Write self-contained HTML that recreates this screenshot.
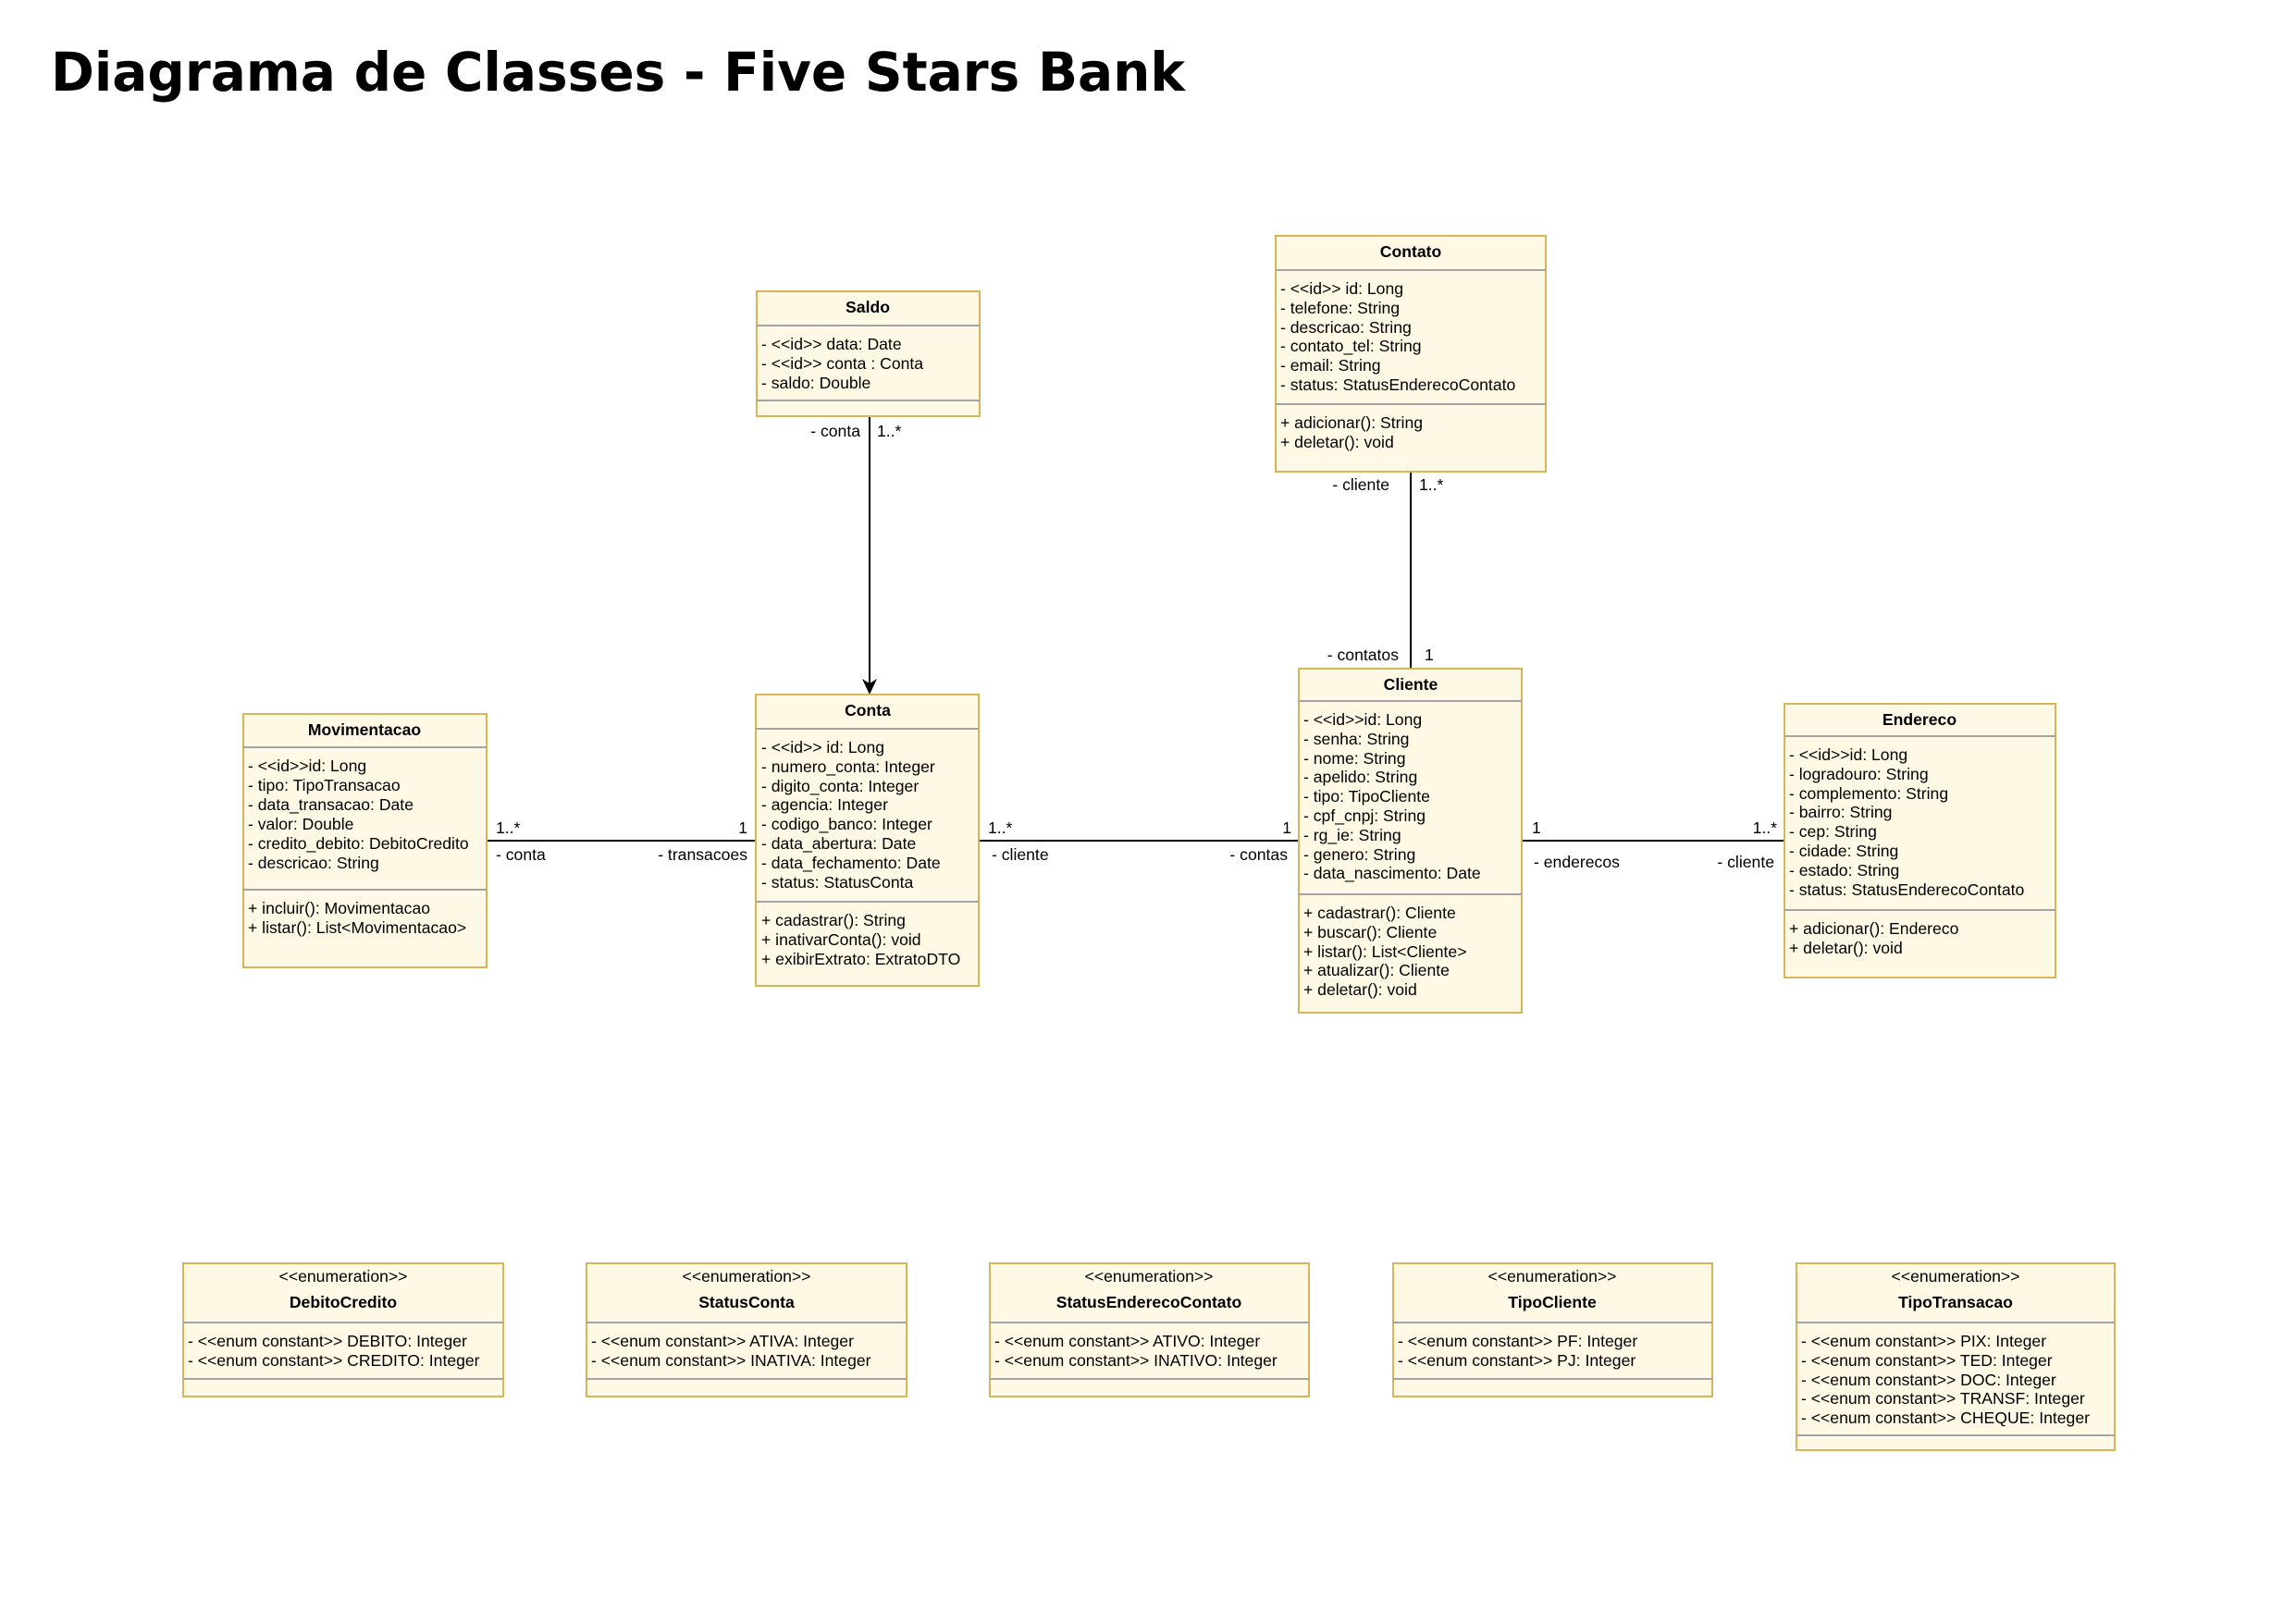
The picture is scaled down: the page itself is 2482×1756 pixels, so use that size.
<!DOCTYPE html>
<html><head><meta charset="utf-8"><style>
html,body{margin:0;padding:0;background:#fff;}
svg{display:block;}
text{font-family:"Liberation Sans",Arial,sans-serif;font-size:17.6px;fill:#000;}
.b{font-weight:bold;}
.t{font-family:"DejaVu Sans",sans-serif;font-weight:bold;font-size:58px;}
.box{fill:#fef8e4;stroke:#d6b656;stroke-width:2;}
.div{stroke:#a3a3a3;stroke-width:2;}
.ln{stroke:#000;stroke-width:2;fill:none;}
</style></head><body>
<svg width="2482" height="1756" viewBox="0 0 2482 1756" xmlns="http://www.w3.org/2000/svg">
<text class="t" x="55" y="98" textLength="1226" lengthAdjust="spacingAndGlyphs">Diagrama de Classes - Five Stars Bank</text>

<line class="ln" x1="526" y1="909" x2="817" y2="909"/>
<line class="ln" x1="1058" y1="909" x2="1404" y2="909"/>
<line class="ln" x1="1645" y1="909" x2="1929" y2="909"/>
<line class="ln" x1="940" y1="450" x2="940" y2="745"/>
<path d="M940,751 L932,734 L940,739 L948,734 Z" fill="#000"/>
<line class="ln" x1="1525" y1="510" x2="1525" y2="723"/>

<text x="536" y="901">1..*</text>
<text x="536" y="930">- conta</text>
<text x="808" y="901" text-anchor="end">1</text>
<text x="808" y="930" text-anchor="end">- transacoes</text>
<text x="1068" y="901">1..*</text>
<text x="1072" y="930">- cliente</text>
<text x="1396" y="901" text-anchor="end">1</text>
<text x="1392" y="930" text-anchor="end">- contas</text>
<text x="1656" y="901">1</text>
<text x="1658" y="938">- enderecos</text>
<text x="1921" y="901" text-anchor="end">1..*</text>
<text x="1918" y="938" text-anchor="end">- cliente</text>
<text x="930" y="472" text-anchor="end">- conta</text>
<text x="948" y="472">1..*</text>
<text x="1502" y="530" text-anchor="end">- cliente</text>
<text x="1534" y="530">1..*</text>
<text x="1512" y="714" text-anchor="end">- contatos</text>
<text x="1540" y="714">1</text>

<rect class="box" x="818" y="315" width="241" height="135"/>
<line class="div" x1="818" y1="352" x2="1059" y2="352"/>
<line class="div" x1="818" y1="433" x2="1059" y2="433"/>
<text class="b" x="938" y="338" text-anchor="middle">Saldo</text>
<text x="823" y="378">- &lt;&lt;id&gt;&gt; data: Date</text>
<text x="823" y="399">- &lt;&lt;id&gt;&gt; conta : Conta</text>
<text x="823" y="420">- saldo: Double</text>

<rect class="box" x="1379" y="255" width="292" height="255"/>
<line class="div" x1="1379" y1="292" x2="1671" y2="292"/>
<line class="div" x1="1379" y1="437" x2="1671" y2="437"/>
<text class="b" x="1525" y="278" text-anchor="middle">Contato</text>
<text x="1384" y="318">- &lt;&lt;id&gt;&gt; id: Long</text>
<text x="1384" y="339">- telefone: String</text>
<text x="1384" y="360">- descricao: String</text>
<text x="1384" y="380">- contato_tel: String</text>
<text x="1384" y="401">- email: String</text>
<text x="1384" y="422">- status: StatusEnderecoContato</text>
<text x="1384" y="463">+ adicionar(): String</text>
<text x="1384" y="484">+ deletar(): void</text>

<rect class="box" x="263" y="772" width="263" height="274"/>
<line class="div" x1="263" y1="808" x2="526" y2="808"/>
<line class="div" x1="263" y1="962" x2="526" y2="962"/>
<text class="b" x="394" y="795" text-anchor="middle">Movimentacao</text>
<text x="268" y="834">- &lt;&lt;id&gt;&gt;id: Long</text>
<text x="268" y="855">- tipo: TipoTransacao</text>
<text x="268" y="876">- data_transacao: Date</text>
<text x="268" y="897">- valor: Double</text>
<text x="268" y="918">- credito_debito: DebitoCredito</text>
<text x="268" y="939">- descricao: String</text>
<text x="268" y="988">+ incluir(): Movimentacao</text>
<text x="268" y="1009">+ listar(): List&lt;Movimentacao&gt;</text>

<rect class="box" x="817" y="751" width="241" height="315"/>
<line class="div" x1="817" y1="788" x2="1058" y2="788"/>
<line class="div" x1="817" y1="975" x2="1058" y2="975"/>
<text class="b" x="938" y="774" text-anchor="middle">Conta</text>
<text x="823" y="814">- &lt;&lt;id&gt;&gt; id: Long</text>
<text x="823" y="835">- numero_conta: Integer</text>
<text x="823" y="856">- digito_conta: Integer</text>
<text x="823" y="876">- agencia: Integer</text>
<text x="823" y="897">- codigo_banco: Integer</text>
<text x="823" y="918">- data_abertura: Date</text>
<text x="823" y="939">- data_fechamento: Date</text>
<text x="823" y="960">- status: StatusConta</text>
<text x="823" y="1001">+ cadastrar(): String</text>
<text x="823" y="1022">+ inativarConta(): void</text>
<text x="823" y="1043">+ exibirExtrato: ExtratoDTO</text>

<rect class="box" x="1404" y="723" width="241" height="372"/>
<line class="div" x1="1404" y1="758" x2="1645" y2="758"/>
<line class="div" x1="1404" y1="967" x2="1645" y2="967"/>
<text class="b" x="1525" y="746" text-anchor="middle">Cliente</text>
<text x="1409" y="784">- &lt;&lt;id&gt;&gt;id: Long</text>
<text x="1409" y="805">- senha: String</text>
<text x="1409" y="826">- nome: String</text>
<text x="1409" y="846">- apelido: String</text>
<text x="1409" y="867">- tipo: TipoCliente</text>
<text x="1409" y="888">- cpf_cnpj: String</text>
<text x="1409" y="909">- rg_ie: String</text>
<text x="1409" y="930">- genero: String</text>
<text x="1409" y="950">- data_nascimento: Date</text>
<text x="1409" y="993">+ cadastrar(): Cliente</text>
<text x="1409" y="1014">+ buscar(): Cliente</text>
<text x="1409" y="1035">+ listar(): List&lt;Cliente&gt;</text>
<text x="1409" y="1055">+ atualizar(): Cliente</text>
<text x="1409" y="1076">+ deletar(): void</text>

<rect class="box" x="1929" y="761" width="293" height="296"/>
<line class="div" x1="1929" y1="796" x2="2222" y2="796"/>
<line class="div" x1="1929" y1="984" x2="2222" y2="984"/>
<text class="b" x="2075" y="784" text-anchor="middle">Endereco</text>
<text x="1934" y="822">- &lt;&lt;id&gt;&gt;id: Long</text>
<text x="1934" y="843">- logradouro: String</text>
<text x="1934" y="864">- complemento: String</text>
<text x="1934" y="884">- bairro: String</text>
<text x="1934" y="905">- cep: String</text>
<text x="1934" y="926">- cidade: String</text>
<text x="1934" y="947">- estado: String</text>
<text x="1934" y="968">- status: StatusEnderecoContato</text>
<text x="1934" y="1010">+ adicionar(): Endereco</text>
<text x="1934" y="1031">+ deletar(): void</text>

<rect class="box" x="198" y="1366" width="346" height="144"/>
<line class="div" x1="198" y1="1430" x2="544" y2="1430"/>
<line class="div" x1="198" y1="1491" x2="544" y2="1491"/>
<text x="371" y="1386" text-anchor="middle">&lt;&lt;enumeration&gt;&gt;</text>
<text class="b" x="371" y="1414" text-anchor="middle">DebitoCredito</text>
<text x="203" y="1456">- &lt;&lt;enum constant&gt;&gt; DEBITO: Integer</text>
<text x="203" y="1477">- &lt;&lt;enum constant&gt;&gt; CREDITO: Integer</text>

<rect class="box" x="634" y="1366" width="346" height="144"/>
<line class="div" x1="634" y1="1430" x2="980" y2="1430"/>
<line class="div" x1="634" y1="1491" x2="980" y2="1491"/>
<text x="807" y="1386" text-anchor="middle">&lt;&lt;enumeration&gt;&gt;</text>
<text class="b" x="807" y="1414" text-anchor="middle">StatusConta</text>
<text x="639" y="1456">- &lt;&lt;enum constant&gt;&gt; ATIVA: Integer</text>
<text x="639" y="1477">- &lt;&lt;enum constant&gt;&gt; INATIVA: Integer</text>

<rect class="box" x="1070" y="1366" width="345" height="144"/>
<line class="div" x1="1070" y1="1430" x2="1415" y2="1430"/>
<line class="div" x1="1070" y1="1491" x2="1415" y2="1491"/>
<text x="1242" y="1386" text-anchor="middle">&lt;&lt;enumeration&gt;&gt;</text>
<text class="b" x="1242" y="1414" text-anchor="middle">StatusEnderecoContato</text>
<text x="1075" y="1456">- &lt;&lt;enum constant&gt;&gt; ATIVO: Integer</text>
<text x="1075" y="1477">- &lt;&lt;enum constant&gt;&gt; INATIVO: Integer</text>

<rect class="box" x="1506" y="1366" width="345" height="144"/>
<line class="div" x1="1506" y1="1430" x2="1851" y2="1430"/>
<line class="div" x1="1506" y1="1491" x2="1851" y2="1491"/>
<text x="1678" y="1386" text-anchor="middle">&lt;&lt;enumeration&gt;&gt;</text>
<text class="b" x="1678" y="1414" text-anchor="middle">TipoCliente</text>
<text x="1511" y="1456">- &lt;&lt;enum constant&gt;&gt; PF: Integer</text>
<text x="1511" y="1477">- &lt;&lt;enum constant&gt;&gt; PJ: Integer</text>

<rect class="box" x="1942" y="1366" width="344" height="202"/>
<line class="div" x1="1942" y1="1430" x2="2286" y2="1430"/>
<line class="div" x1="1942" y1="1552" x2="2286" y2="1552"/>
<text x="2114" y="1386" text-anchor="middle">&lt;&lt;enumeration&gt;&gt;</text>
<text class="b" x="2114" y="1414" text-anchor="middle">TipoTransacao</text>
<text x="1947" y="1456">- &lt;&lt;enum constant&gt;&gt; PIX: Integer</text>
<text x="1947" y="1477">- &lt;&lt;enum constant&gt;&gt; TED: Integer</text>
<text x="1947" y="1498">- &lt;&lt;enum constant&gt;&gt; DOC: Integer</text>
<text x="1947" y="1518">- &lt;&lt;enum constant&gt;&gt; TRANSF: Integer</text>
<text x="1947" y="1539">- &lt;&lt;enum constant&gt;&gt; CHEQUE: Integer</text>
</svg>
</body></html>
